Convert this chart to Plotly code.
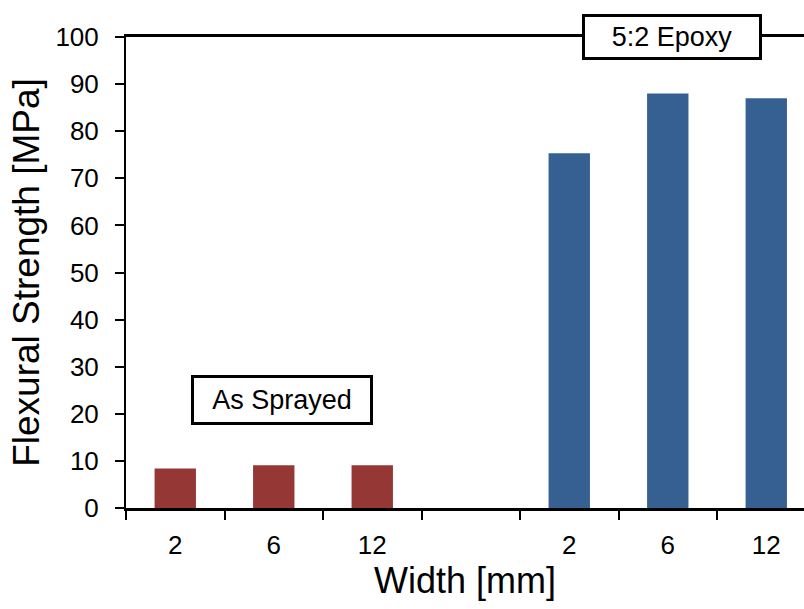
import plotly.graph_objects as go

# Flexural strength by specimen width, for two surface conditions
widths = ["2", "6", "12"]
as_sprayed = [8.4, 9.1, 9.1]
epoxy_52 = [75.3, 88.0, 87.0]
group_labels = ["As Sprayed", "5:2 Epoxy"]

# slot layout: three widths, an empty spacer slot, three widths
n = len(widths)
x_sprayed = list(range(n))
x_epoxy = [i + n + 1 for i in range(n)]
tick_positions = x_sprayed + x_epoxy
tick_text = widths + widths

RED = "#953735"
BLUE = "#376092"
FONT = "Liberation Sans, Arial, sans-serif"

fig = go.Figure()
fig.add_trace(go.Bar(x=x_sprayed, y=as_sprayed, width=0.42,
                     marker=dict(color=RED, line=dict(width=0)),
                     name=group_labels[0]))
fig.add_trace(go.Bar(x=x_epoxy, y=epoxy_52, width=0.42,
                     marker=dict(color=BLUE, line=dict(width=0)),
                     name=group_labels[1]))

fig.update_layout(
    width=804, height=609,
    margin=dict(l=126, r=0, t=37, b=101),
    plot_bgcolor="white", paper_bgcolor="white",
    showlegend=False,
    font=dict(family=FONT, color="black"),
    xaxis=dict(
        range=[-0.5, 6.383],
        tickmode="array", tickvals=tick_positions, ticktext=tick_text,
        ticks="", tickfont=dict(size=26), ticklabelstandoff=12,
        minor=dict(tickmode="linear", tick0=-0.5, dtick=1,
                   ticks="outside", ticklen=9, tickwidth=2, tickcolor="black"),
        showline=True, linecolor="black", linewidth=3, mirror=True,
        showgrid=False, zeroline=False,
        title=dict(text="Width [mm]", font=dict(size=36), standoff=4),
    ),
    yaxis=dict(
        range=[0, 100], dtick=10,
        ticks="outside", ticklen=9, tickwidth=2, tickcolor="black",
        tickfont=dict(size=26), ticklabelstandoff=11,
        showline=True, linecolor="black", linewidth=2,
        showgrid=False, zeroline=False,
        title=dict(text="Flexural Strength [MPa]", font=dict(size=37), standoff=4),
    ),
)

# group captions, placed over each group of bars
fig.add_annotation(x=(x_sprayed[0] + x_sprayed[-1]) / 2 + 0.08, y=22.9,
                   xref="x", yref="y", text=group_labels[0], showarrow=False,
                   font=dict(size=27, family=FONT), bgcolor="white",
                   bordercolor="black", borderwidth=3, borderpad=0,
                   width=176, height=44)
fig.add_annotation(x=(x_epoxy[0] + x_epoxy[-1]) / 2 + 0.04, y=100,
                   xref="x", yref="y", text=group_labels[1], showarrow=False,
                   font=dict(size=27, family=FONT), bgcolor="white",
                   bordercolor="black", borderwidth=3, borderpad=0,
                   width=174, height=40)

fig.write_html("out.html")
